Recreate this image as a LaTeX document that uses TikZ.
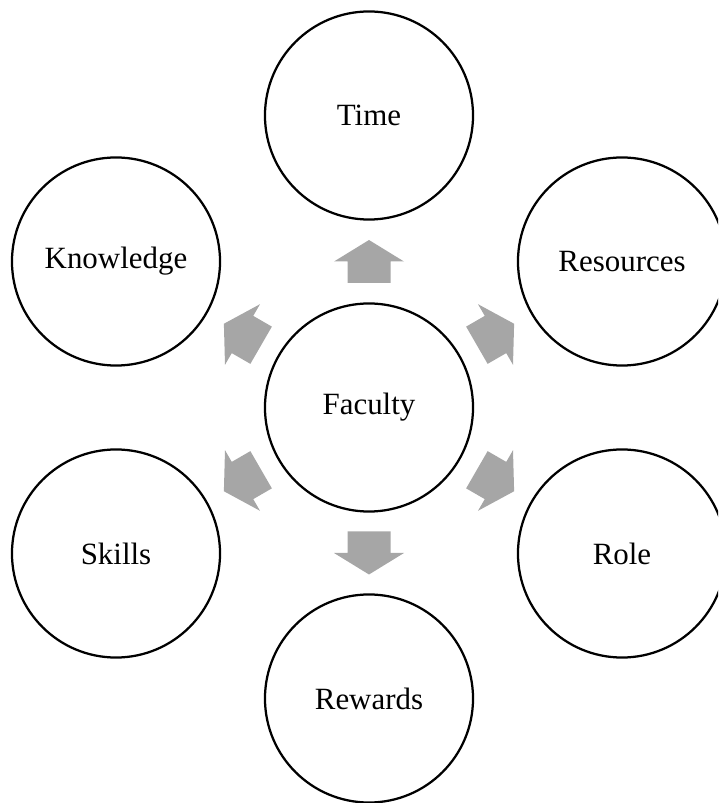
\documentclass[tikz,border=0pt]{standalone}
\usepackage{fontspec}
\setmainfont{Liberation Serif}
\usetikzlibrary{calc}
\definecolor{arrowgray}{RGB}{166,166,166}
\tikzset{
  bubble/.style={circle,draw=black,line width=1.6pt,minimum size=5.2cm,inner sep=0pt,
    font=\fontsize{22}{26}\selectfont},
  pics/blockarrow/.style={code={
    \fill[arrowgray] (-21.5,-21.5)--(0,-21.5)--(0,-35)--(21.5,0)--(0,35)--(0,21.5)--(-21.5,21.5)--cycle;}}
}

\begin{document}
\begin{tikzpicture}[x=0.025cm,y=0.025cm]
            \useasboundingbox (0,0) rectangle (718,803);
            \clip (0,0) rectangle (718,803);
            \node[bubble] (fac) at (369,395.5) {Faculty};
            \node[bubble] (time) at (369,687.5) {Time};
            \node[bubble] (res) at (622,541.5) {Resources};
            \node[bubble] (role) at (622,249.5) {Role};
            \node[bubble] (rew) at (369,104.5) {Rewards};
            \node[bubble] (skills) at (116,249.5) {Skills};
            \node[bubble] (know) at (116,541.5) {Knowledge};
            \foreach \n/\a in {time/90,res/30,role/-30,rew/-90,skills/210,know/150}
              \path ($(fac)!0.5!(\n)$) pic[rotate=\a] {blockarrow};
          \end{tikzpicture}
\end{document}
